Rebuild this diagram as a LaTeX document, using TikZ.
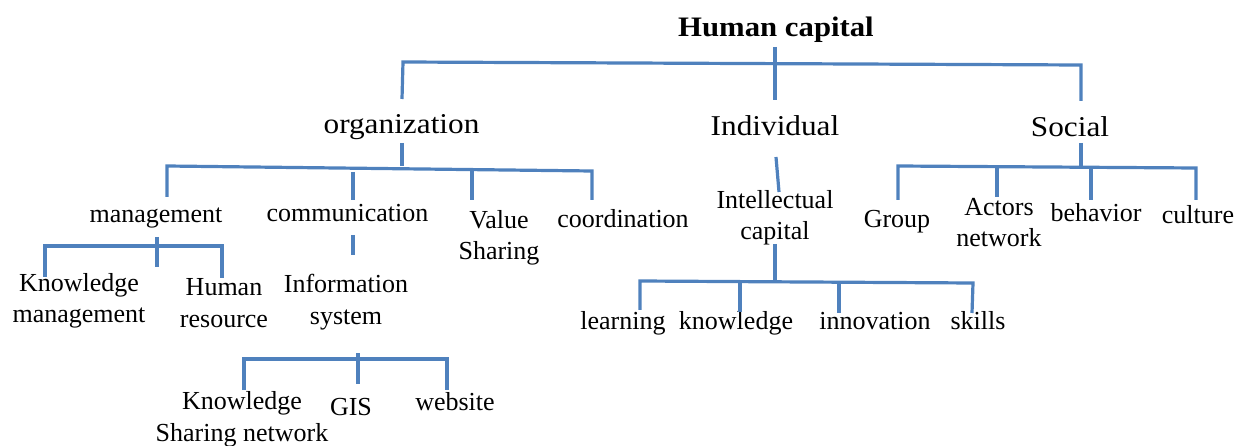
\documentclass[tikz,border=0pt]{standalone}
\usepackage{fontspec}
\setmainfont{Liberation Serif}
\newfontfamily\widefont{Liberation Serif}[FakeStretch=1.09]
\definecolor{lineblue}{RGB}{79,129,189}
\begin{document}
\begin{tikzpicture}[x=1pt,y=-1pt,
  br/.style={draw=lineblue, line width=3.2pt},
  ttl/.style={font=\widefont\fontsize{28.2}{32}\selectfont\bfseries, inner sep=0pt, anchor=base},
  lvone/.style={font=\widefont\fontsize{28.7}{32}\selectfont, inner sep=0pt, anchor=base},
  lbl/.style={font=\fontsize{26}{31.5}\selectfont, inner sep=0pt, anchor=base, align=center}]
\useasboundingbox (0,0) rectangle (1245,446);
% nodes (anchor base = baseline of the last line)
\node[ttl] (title) at (776,37) {Human capital};
\node[lvone] (org) at (401.5,134) {organization};
\node[lvone] (ind) at (775,136) {Individual};
\node[lvone] (soc) at (1070,137) {Social};
\node[lbl] (mgmt) at (156,223) {management};
\node[lbl] (comm) at (347.5,222) {communication};
\node[lbl] (val) at (499,260) {Value\\Sharing};
\node[lbl] (coord) at (623,228) {coordination};
\node[lbl] (intel) at (775,240) {Intellectual\\capital};
\node[lbl] (group) at (897,228) {Group};
\node[lbl] (actors) at (999,247) {Actors\\network};
\node[lbl] (behav) at (1096,222) {behavior};
\node[lbl] (cult) at (1198,224) {culture};
\node[lbl] (kmg) at (79,323) {Knowledge\\management};
\node[lbl] (hr) at (224,327) {Human\\resource};
\node[lbl] (infs) at (346,324) {Information\\system};
\node[lbl] (ksn) at (242,441) {Knowledge\\Sharing network};
\node[lbl] (gis) at (351,415) {GIS};
\node[lbl] (web) at (455,410) {website};
\node[lbl] (learn) at (623,330) {learning};
\node[lbl] (know) at (736,330) {knowledge};
\node[lbl] (innov) at (875,330) {innovation};
\node[lbl] (skills) at (978,330) {skills};
% coordinates of the connector tree
\coordinate (hcA) at (775,47);   \coordinate (hcB) at (775,100);
\coordinate (tbL) at (403,62);   \coordinate (tbR) at (1081,65);
\coordinate (orgT) at (402,99);  \coordinate (socT) at (1081,101);
\coordinate (orgA) at (402,143); \coordinate (orgB) at (402,166);
\coordinate (obL) at (167,166);  \coordinate (obR) at (592,171);
\coordinate (mgT) at (167,197);
\coordinate (cmA) at (353,172);  \coordinate (cmT) at (353,200);
\coordinate (vaA) at (472,170);  \coordinate (vaT) at (472,200);
\coordinate (coT) at (592,200);
\coordinate (mgA) at (157,237);  \coordinate (mgB) at (157,267);
\coordinate (mbL) at (45,246);   \coordinate (mbR) at (222,246);
\coordinate (kmT) at (45,277);   \coordinate (hrT) at (222,278);
\coordinate (cmB) at (353,235);  \coordinate (cmC) at (353,255);
\coordinate (isA) at (358,353);  \coordinate (isB) at (358,384);
\coordinate (ibL) at (244,359);  \coordinate (ibR) at (447,359);
\coordinate (ksT) at (244,390);  \coordinate (wbT) at (447,390);
\coordinate (inA) at (776,157);  \coordinate (inB) at (779,192);
\coordinate (icA) at (775,244);  \coordinate (icB) at (775,281);
\coordinate (cbL) at (640,281);  \coordinate (cbR) at (973,283);
\coordinate (leT) at (640,310);
\coordinate (knA) at (740,282);  \coordinate (knT) at (740,312);
\coordinate (ivA) at (839,282);  \coordinate (ivT) at (839,313);
\coordinate (skT) at (972,313);
\coordinate (soA) at (1081,143); \coordinate (soB) at (1081,167);
\coordinate (sbL) at (898,166);  \coordinate (sbR) at (1196,168);
\coordinate (grT) at (898,200);
\coordinate (acA) at (997,167);  \coordinate (acT) at (997,197);
\coordinate (beA) at (1091,167); \coordinate (beT) at (1091,200);
\coordinate (cuT) at (1196,200);
% connectors
\draw[br] (hcA) -- (hcB);
\draw[br] (orgT) -- (tbL) -- (tbR) -- (socT);
\draw[br] (orgA) -- (orgB);
\draw[br] (mgT) -- (obL) -- (obR) -- (coT);
\draw[br] (cmA) -- (cmT);
\draw[br] (vaA) -- (vaT);
\draw[br] (mgA) -- (mgB);
\draw[br] (kmT) -- (mbL) -- (mbR) -- (hrT);
\draw[br] (cmB) -- (cmC);
\draw[br] (isA) -- (isB);
\draw[br] (ksT) -- (ibL) -- (ibR) -- (wbT);
\draw[br] (inA) -- (inB);
\draw[br] (icA) -- (icB);
\draw[br] (leT) -- (cbL) -- (cbR) -- (skT);
\draw[br] (knA) -- (knT);
\draw[br] (ivA) -- (ivT);
\draw[br] (soA) -- (soB);
\draw[br] (grT) -- (sbL) -- (sbR) -- (cuT);
\draw[br] (acA) -- (acT);
\draw[br] (beA) -- (beT);
\end{tikzpicture}
\end{document}
